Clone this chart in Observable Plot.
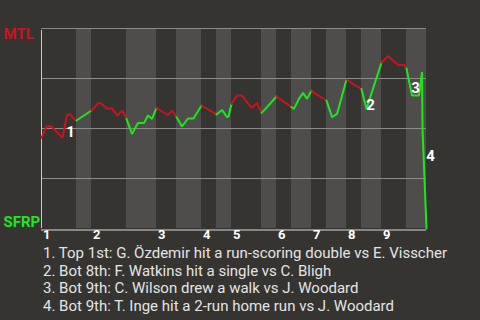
<!DOCTYPE html>
<html>
<head>
<meta charset="utf-8">
<script src="https://cdn.jsdelivr.net/npm/d3@7"></script>
<script src="https://cdn.jsdelivr.net/npm/@observablehq/plot@0.6"></script>
<style>
  html, body { margin: 0; padding: 0; background: #363431; }
  body { width: 480px; height: 320px; overflow: hidden; font-family: Roboto, sans-serif; }
  #caption { margin-left: 43px; padding-top: 1px; color: #e4e4e4; font-size: 15px; line-height: 17.7px; white-space: nowrap; }
</style>
</head>
<body>
<div id="chart"></div>
<div id="caption"></div>
<script>
// Teams
const teamTop = "MTL";
const teamBottom = "SFRP";

// Innings (x axis in plate appearances)
const innings = ["1", "2", "3", "4", "5", "6", "7", "8", "9"];
const inningStart = [0, 10, 23, 32, 38, 47, 54, 61, 68];
const bottomStart = [7, 17, 27, 35, 44, 50, 57, 64, 73];
const gameEnd = 77;

// Win probability for MTL through the game
const playX = [
  0, 1, 2, 4.2, 5.06, 5.7, 6.4, 7,
  8.5, 10,
  11.4, 12.06, 13.06, 14.06, 15.2, 16.2, 17,
  18.1, 19.3, 20.5, 21.3, 22.1, 23,
  24.1, 25.3, 26.1, 27,
  28.1, 29.3, 30.4, 32,
  34.5, 35,
  36.1, 37.1, 37.4, 38,
  39.1, 40.1, 41.1, 42.1, 43.1, 44,
  44.8, 47,
  50,
  50.5, 51.5, 52.3, 53.1, 54,
  54.8, 57,
  58.1, 59.1, 61,
  62.5, 64,
  65, 68,
  69.3, 71.3, 72.5, 73,
  74, 74.1, 75.5, 76.1, 76.2, 77
];
const mtlProb = [
  0.453, 0.51, 0.51, 0.453, 0.565, 0.573, 0.55, 0.54,
  0.565, 0.59,
  0.628, 0.623, 0.60, 0.60, 0.565, 0.59, 0.548,
  0.473, 0.527, 0.527, 0.565, 0.548, 0.603,
  0.585, 0.568, 0.59, 0.557,
  0.51, 0.55, 0.55, 0.615,
  0.578, 0.57,
  0.593, 0.557, 0.56, 0.623,
  0.665, 0.665, 0.632, 0.603, 0.628, 0.578,
  0.598, 0.66,
  0.607,
  0.598, 0.648, 0.678, 0.648, 0.69,
  0.673, 0.64,
  0.557, 0.573, 0.745,
  0.72, 0.698,
  0.598, 0.83,
  0.862, 0.818, 0.818, 0.80,
  0.677, 0.665, 0.665, 0.782, 0.5, 0.0
];

// Key plays
const eventNum = ["1", "2", "3", "4"];
const eventX = [5.8, 65.8, 74.8, 77.8];
const eventY = [0.48, 0.6175, 0.70, 0.36];
const eventText = [
  "1. Top 1st: G. Özdemir hit a run-scoring double vs E. Visscher",
  "2. Bot 8th: F. Watkins hit a single vs C. Bligh",
  "3. Bot 9th: C. Wilson drew a walk vs J. Woodard",
  "4. Bot 9th: T. Inge hit a 2-run home run vs J. Woodard"
];

const gridY = [0.25, 0.5, 0.75, 1];

const RED = "#c8141e";
const GREEN = "#1ee61e";

// Build half-inning segments
const halfStarts = [];
inningStart.forEach((s, i) => { halfStarts.push({s, top: true}); halfStarts.push({s: bottomStart[i], top: false}); });
const segs = [];
halfStarts.forEach((h, i) => {
  const e = i + 1 < halfStarts.length ? halfStarts[i + 1].s : gameEnd;
  playX.forEach((x, j) => {
    if (x >= h.s && x <= e) segs.push({x, y: mtlProb[j], half: i, top: h.top});
  });
});
const bands = bottomStart.map((s, i) => ({x1: s, x2: i + 1 < inningStart.length ? inningStart[i + 1] : gameEnd}));
const tickRows = innings.map((t, i) => ({x: inningStart[i], t}));
const events = eventNum.map((t, i) => ({x: eventX[i], y: eventY[i], t}));

const chart = Plot.plot({
  width: 480,
  height: 244,
  marginLeft: 41,
  marginRight: 54,
  marginTop: 28,
  marginBottom: 16,
  style: {background: "transparent", fontFamily: "Roboto, sans-serif"},
  x: {domain: [0, gameEnd], axis: null},
  y: {domain: [0, 1], axis: null},
  marks: [
    Plot.rectX(bands, {x1: "x1", x2: "x2", y1: 0, y2: 1, fill: "#4e4d4b"}),
    Plot.ruleY(gridY, {stroke: "#8e8c8a", strokeWidth: 1}),
    Plot.ruleX([0], {stroke: "#c8c8c8", strokeWidth: 1, y1: 0, y2: 1, insetBottom: -2}),
    Plot.ruleY([0], {stroke: "#d8d8d8", strokeWidth: 1, dy: 1.5}),
    Plot.line(segs, {x: "x", y: "y", z: "half", stroke: d => d.top ? RED : GREEN, strokeWidth: 2, strokeLinejoin: "miter"}),
    Plot.text(events, {x: "x", y: "y", text: "t", fill: "#ffffff", fontSize: 15, fontWeight: "bold"}),
    Plot.text(tickRows, {x: "x", y: 0, text: "t", fill: "#ffffff", fontSize: 13, fontWeight: "bold", textAnchor: "start", lineAnchor: "top", dx: 1.5, dy: 1}),
    Plot.text([teamTop], {frameAnchor: "top-left", text: d => d, fill: RED, fontSize: 15, fontWeight: "bold", textAnchor: "start", lineAnchor: "top", dx: -38, dy: 0}),
    Plot.text([teamBottom], {frameAnchor: "bottom-left", text: d => d, fill: GREEN, fontSize: 15, fontWeight: "bold", textAnchor: "start", lineAnchor: "bottom", dx: -38, dy: -2})
  ]
});
document.getElementById("chart").appendChild(chart);
const cap = document.getElementById("caption");
eventText.forEach(t => { const d = document.createElement("div"); d.textContent = t; cap.appendChild(d); });
</script>
</body>
</html>
